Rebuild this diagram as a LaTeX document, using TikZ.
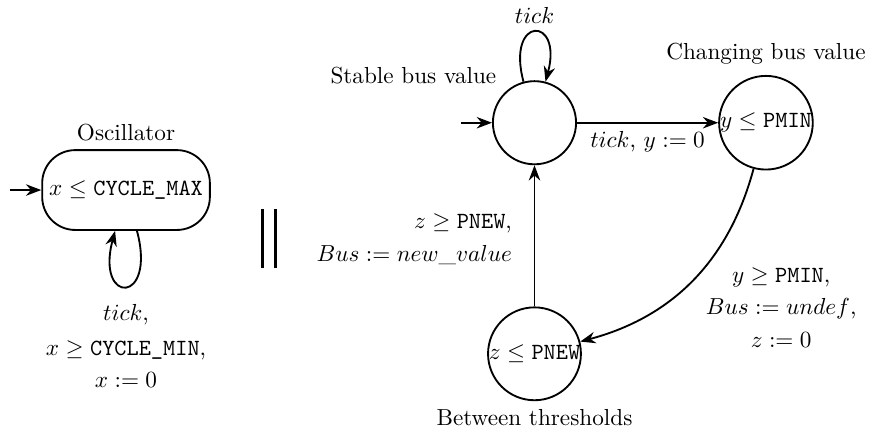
\documentclass[tikz,border=0pt]{standalone}
\usetikzlibrary{arrows.meta, positioning}

\begin{document}
\begin{tikzpicture}[
    node distance=2.14cm,
    location/.style={circle, draw, thick, inner sep=0pt, minimum size=1.26cm},
    clock/.style={rectangle, draw, thick, rounded corners=0.5cm, inner xsep=3pt, minimum height=1.21cm},
    arrow/.style={-Stealth, thick},
    guard/.style={align=center},
    parbar/.style={line width=1.2pt}
]
    \useasboundingbox (0,0) rectangle (13.2,-6.5);

    % oscillator automaton
    \node[clock, label=above:Oscillator] (osc) at (1.91,-2.88) {$x \leq \texttt{CYCLE\_MAX}$};
    \coordinate[left=0.48cm of osc] (osc-init);
    \draw[arrow] (osc-init) -- (osc);
    \draw[arrow] (osc) to[loop below, looseness=9] node[below=4pt, guard] {$tick$,\\[3pt] $x \geq \texttt{CYCLE\_MIN}$,\\[2pt] $x := 0$} (osc);

    % parallel composition
    \draw[parbar] (3.98,-3.17) -- (3.98,-4.06);
    \draw[parbar] (4.17,-3.17) -- (4.17,-4.06);

    % bus automaton
    \node[location, label={above left:Stable bus value}] (stable) at (8.1,-1.86) {};
    \node[location, right=of stable, label={[label distance=1pt]above:Changing bus value}] (changing) {$y \leq \texttt{PMIN}$};
    \node[location, below=of stable, label={below:Between thresholds}] (between) {$z \leq \texttt{PNEW}$};
    \coordinate[left=0.47cm of stable] (stable-init);

    \draw[arrow] (stable-init) -- (stable);
    \draw[arrow] (stable) to[loop above] node[above] {$tick$} (stable);
    \draw[arrow] (stable) -- node[below] {$tick$, $y := 0$} (changing);
    \draw[arrow] (changing) to[bend left=30] node[right, pos=0.55, xshift=6pt, yshift=-8pt, guard] {$y \geq \texttt{PMIN}$,\\[2pt] $Bus := undef$,\\[2pt] $z := 0$} (between);
    \draw[arrow] (between) -- node[left=6pt, yshift=-1.5pt, align=right] {$z \geq \texttt{PNEW}$,\\[2pt] $Bus := new\_value$} (stable);
\end{tikzpicture}
\end{document}
